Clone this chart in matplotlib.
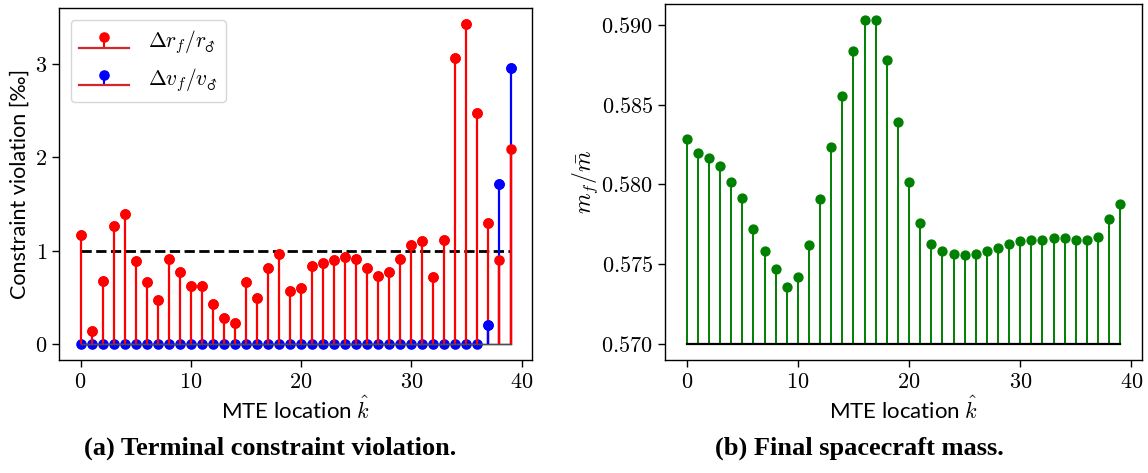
import numpy as np
import matplotlib
matplotlib.use("Agg")
import matplotlib.pyplot as plt
from matplotlib.ticker import FuncFormatter, MultipleLocator

plt.rcParams['mathtext.fontset'] = 'cm'
plt.rcParams['font.family'] = ['Lato', 'DejaVu Sans']

# ---- data ----
k = np.arange(40)
dr = [1.17, 0.136, 0.67, 1.27, 1.39, 0.89, 0.66, 0.47, 0.91, 0.775,
      0.62, 0.62, 0.43, 0.275, 0.23, 0.66, 0.49, 0.81, 0.96, 0.57,
      0.60, 0.84, 0.87, 0.90, 0.935, 0.91, 0.81, 0.73, 0.77, 0.91,
      1.064, 1.10, 0.72, 1.12, 3.07, 3.43, 2.48, 1.30, 0.90, 2.09]
dv = [0.0] * 37 + [0.20, 1.71, 2.96]
mass = [0.58284, 0.58198, 0.58169, 0.58118, 0.58016, 0.57915, 0.57718, 0.57582, 0.57471, 0.57354,
        0.57419, 0.57618, 0.57907, 0.58236, 0.58556, 0.58835, 0.59031, 0.59031, 0.58780, 0.58391,
        0.58016, 0.57758, 0.57628, 0.57580, 0.57561, 0.57559, 0.57565, 0.57582, 0.57603, 0.57626,
        0.57643, 0.57649, 0.57651, 0.57662, 0.57662, 0.57653, 0.57651, 0.57668, 0.57781, 0.57875]
threshold = 1.0
mass_base = 0.570

dr = np.array(dr)
dv = np.array(dv)
mass = np.array(mass)

W, H = 1148, 473
fig = plt.figure(figsize=(W / 100, H / 100), dpi=100)

FS = 16
ax1 = fig.add_axes([59 / W, 1 - 360 / H, (532 - 59) / W, (360 - 8) / H])
ax2 = fig.add_axes([665 / W, 1 - 360 / H, (1142 - 665) / W, (360 - 4) / H])

# ---- left panel ----
s_v = ax1.stem(k, dv, linefmt='b-', markerfmt='bo', basefmt='C3-')
s_r = ax1.stem(k, dr, linefmt='r-', markerfmt='ro', basefmt='C3-')
for s in (s_r, s_v):
    s.stemlines.set_linewidth(1.6)
    s.markerline.set_markersize(6.6)
    s.baseline.set_linewidth(1.6)
# draw the shorter stem of each location on top
shorter = np.minimum(dr, dv)
cols = np.where(dv < dr, 'b', 'r')
ax1.vlines(k, 0, shorter, colors=cols, linewidth=1.6, zorder=2.1)
ax1.plot(k[dv > 0], dv[dv > 0], 'bo', ms=6.6, zorder=2.2)
ax1.plot(k[dv < dr], dr[dv < dr], 'ro', ms=6.6, zorder=2.2)

ax1.plot([k[0], k[-1]], [threshold, threshold], 'k--', lw=2, zorder=1.5)

leg = ax1.legend([s_r, s_v], [r'$\Delta r_f/r_{♂}$', r'$\Delta v_f/v_{♂}$'],
                 loc='upper left', fontsize=15.5, handlelength=2.3,
                 borderaxespad=0.55, framealpha=0.8, handletextpad=0.9,
                 labelspacing=0.45)
for s in (s_r, s_v):
    s.baseline.set_color('0.3')
    s.baseline.set_linewidth(1.0)

ax1.set_ylabel('Constraint violation [‰]', fontsize=15.5)
ax1.set_xlabel(r'MTE location $\hat{k}$', fontsize=FS, labelpad=3)
ax1.xaxis.set_major_locator(MultipleLocator(10))
ax1.yaxis.set_major_locator(MultipleLocator(1))
ax1.xaxis.set_major_formatter(FuncFormatter(lambda x, p: f'${x:.0f}$'))
ax1.yaxis.set_major_formatter(FuncFormatter(lambda x, p: f'${x:.0f}$'))

# ---- right panel ----
s_m = ax2.stem(k, mass, linefmt='g-', markerfmt='go', basefmt='k-', bottom=mass_base)
s_m.stemlines.set_linewidth(1.4)
s_m.markerline.set_markersize(6.4)
s_m.baseline.set_linewidth(1.6)
ax2.set_ylabel(r'$m_f/\bar{m}$', fontsize=FS + 1, labelpad=1)
ax2.set_xlabel(r'MTE location $\hat{k}$', fontsize=FS, labelpad=3)
ax2.xaxis.set_major_locator(MultipleLocator(10))
ax2.yaxis.set_major_locator(MultipleLocator(0.005))
ax2.xaxis.set_major_formatter(FuncFormatter(lambda x, p: f'${x:.0f}$'))
ax2.yaxis.set_major_formatter(FuncFormatter(lambda x, p: f'${x:.3f}$'))

for ax in (ax1, ax2):
    ax.tick_params(labelsize=FS, length=5, width=1)
    for sp in ax.spines.values():
        sp.set_linewidth(1.0)

# ---- captions ----
fig.text(270 / W, 1 - 448 / H, '(a) Terminal constraint violation.',
         ha='center', va='center', fontsize=19, fontweight='bold', family='Liberation Serif')
fig.text(859 / W, 1 - 448 / H, '(b) Final spacecraft mass.',
         ha='center', va='center', fontsize=19, fontweight='bold', family='Liberation Serif')

fig.savefig('out.png', dpi=100)
